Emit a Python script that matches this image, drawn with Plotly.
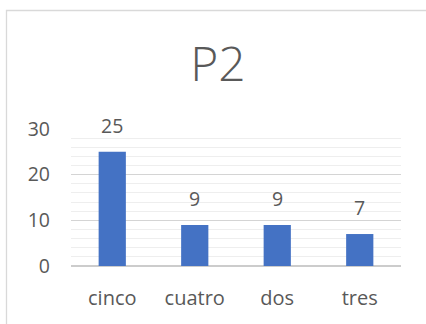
import plotly.graph_objects as go

# Response counts for question P2
categories = ["cinco", "cuatro", "dos", "tres"]
counts = [25, 9, 9, 7]
y_ticks = [0, 10, 20, 30]

W, H = 426, 324
ML, MR, MT, MB = 71, 25, 129, 58
plot_w = W - ML - MR
plot_h = H - MT - MB

text_color = "#595959"
font_family = "Open Sans, Noto Sans, sans-serif"

fig = go.Figure()
fig.add_trace(go.Bar(
    x=categories,
    y=counts,
    marker=dict(color="#4472C4", line=dict(width=0)),
    width=0.33,
    hoverinfo="skip",
))

# Value labels above each bar
for cat, val in zip(categories, counts):
    fig.add_annotation(
        x=cat, y=val, text=str(val), showarrow=False,
        xref="x", yref="y", yanchor="bottom", yshift=11,
        font=dict(family=font_family, size=19.5, color=text_color),
    )

# Light chart frame (left and top edges visible)
def px_to_paper_x(px):
    return (px - ML) / plot_w

def px_to_paper_y(py):
    return (H - MB - py) / plot_h

fig.add_shape(
    type="rect", xref="paper", yref="paper",
    x0=px_to_paper_x(6.5), x1=px_to_paper_x(440),
    y0=px_to_paper_y(340), y1=px_to_paper_y(10.5),
    line=dict(color="#d9d9d9", width=1.3), fillcolor="rgba(0,0,0,0)",
    layer="below",
)

fig.update_layout(
    width=W, height=H,
    margin=dict(l=ML, r=MR, t=MT, b=MB),
    paper_bgcolor="white", plot_bgcolor="white",
    showlegend=False,
    title=dict(
        text="P2", x=218 / W, xanchor="center",
        y=1 - 64 / H, yanchor="middle",
        font=dict(family=font_family, size=48, color=text_color, weight=300),
    ),
    bargap=0.67,
    xaxis=dict(
        showgrid=False, zeroline=False, showline=False,
        ticks="", ticklabelstandoff=18,
        tickfont=dict(family=font_family, size=20, color=text_color),
    ),
    yaxis=dict(
        range=[0, 30], tickvals=y_ticks,
        showgrid=True, gridcolor="#d4d4d4", gridwidth=1.3,
        minor=dict(dtick=2, showgrid=True, gridcolor="#eeeeee", gridwidth=1.3),
        zeroline=True, zerolinecolor="#cccccc", zerolinewidth=1.5,
        showline=False, ticks="", ticklabelstandoff=20,
        tickfont=dict(family=font_family, size=19.5, color=text_color),
    ),
)

fig.write_html("out.html")
